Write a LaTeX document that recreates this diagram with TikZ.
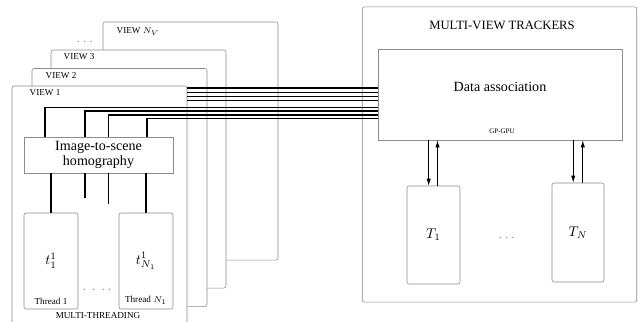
\documentclass[tikz,border=0pt]{standalone}
\usepackage{fontspec}
\setmainfont{Liberation Serif}
\usepackage{amsmath}
\usepackage{tikz}
\usetikzlibrary{arrows.meta, positioning, calc}
\definecolor{BoxGray}{HTML}{8C8C8C}

\begin{document}
\begin{tikzpicture}[x=0.025cm, y=-0.025cm,
    box/.style={draw=BoxGray, rounded corners=1.5pt, fill=white, inner sep=0pt},
    bus/.style={line width=0.75pt},
    arr/.style={-{Latex[length=5pt,width=3pt]}, line width=0.5pt},
    tag/.style={font=\fontsize{6.5}{7}\selectfont}]
    \useasboundingbox (0,0) rectangle (638,322);

    % Draw view frames, back to front
    \node[box, minimum width=4.375cm, minimum height=5.95cm] (viewN) at (190.5,141) {};
    \node[box, minimum width=4.375cm, minimum height=5.95cm] (view3) at (138.5,169) {};
    \node[box, minimum width=4.375cm, minimum height=5.95cm] (view2) at (119.5,187.5) {};
    \node[box, minimum width=4.375cm, minimum height=5.95cm] (view1) at (99.5,205) {};
    \node[tag, anchor=west] (labN) at ($(viewN.north west)+(9,10)$) {VIEW $N_V$};
    \node[tag, anchor=west] (lab3) at ($(view3.north west)+(8,7)$) {VIEW 3};
    \node[tag, anchor=west] (lab2) at ($(view2.north west)+(9,7)$) {VIEW 2};
    \node[tag, anchor=west] (lab1) at ($(view1.north west)+(13,7)$) {VIEW 1};
    \node[text=BoxGray] (dotsv) at (86,42) {$\cdots$};

    % Homography and threads inside view 1
    \node[box, rounded corners=0pt, minimum width=3.725cm, minimum height=0.9cm, align=center] (hom) at (98.5,155) {Image-to-scene\\[-1pt]homography};
    \node[box, minimum width=1.35cm, minimum height=2.4cm] (th1) at (51,261) {$t^1_1$};
    \node[box, minimum width=1.35cm, minimum height=2.4cm] (thN) at (146,261) {$t^1_{N_1}$};
    \node[tag, above=0pt of th1.south] (thr1) {Thread 1};
    \node[tag, above=0pt of thN.south] (thrN) {Thread $N_1$};
    \node[text=BoxGray] (dotsth) at (97,290) {$\cdot\,\cdot\,\cdot\,\cdot$};
    \node[tag] (mt) at (98,316) {MULTI-THREADING};

    % Trackers side
    \node[box, minimum width=6.86cm, minimum height=7.375cm] (trk) at (499.5,154.5) {};
    \node[font=\small] (trktitle) at (502,25) {MULTI-VIEW TRACKERS};
    \node[box, rounded corners=0pt, minimum width=6.1cm, minimum height=2.275cm] (assoc) at (500,94.5) {};
    \node (assoctext) at (500,87) {Data association};
    \node[font=\fontsize{5}{6}\selectfont] (gpu) at (502,131) {GP-GPU};
    \node[box, minimum width=1.325cm, minimum height=2.45cm] (t1) at (433.5,235) {$T_1$};
    \node[box, minimum width=1.3cm, minimum height=2.475cm] (tN) at (578,232.5) {$T_N$};
    \node[text=BoxGray] (dotst) at (508,238) {$\cdots$};

    % Bus lines to data association
    \foreach \y [count=\i] in {88,92.2,96.4,100.6} {
        \coordinate (a\i) at (187,\y);
        \draw[bus] (a\i) -- (a\i -| assoc.west);
    }
    \foreach \x/\y [count=\i] in {45/107.3,85/111,108.5/115,147/118.8} {
        \coordinate (b\i) at (\x,\y);
        \draw[bus] (b\i |- hom.north) -- (b\i) -- (b\i -| assoc.west);
    }

    % Homography to threads
    \draw[bus] (hom.south -| th1.north) -- (th1.north);
    \draw[bus] (hom.south -| thN.north) -- (thN.north);
    \coordinate (s1) at (85,198);
    \coordinate (s2) at (108.5,204);
    \draw[bus] (hom.south -| s1) -- (s1);
    \draw[line width=0.5pt] (hom.south -| s2) -- (s2);

    % Arrows between association and trackers
    \draw[arr] ([xshift=-0.12cm]t1.north |- assoc.south) -- ([xshift=-0.12cm]t1.north);
    \draw[arr] ([xshift=0.1cm]t1.north) -- ([xshift=0.1cm]t1.north |- assoc.south);
    \draw[arr] ([xshift=-0.12cm]tN.north |- assoc.south) -- ([xshift=-0.12cm]tN.north);
    \draw[arr] ([xshift=0.12cm]tN.north) -- ([xshift=0.12cm]tN.north |- assoc.south);
\end{tikzpicture}
\end{document}
